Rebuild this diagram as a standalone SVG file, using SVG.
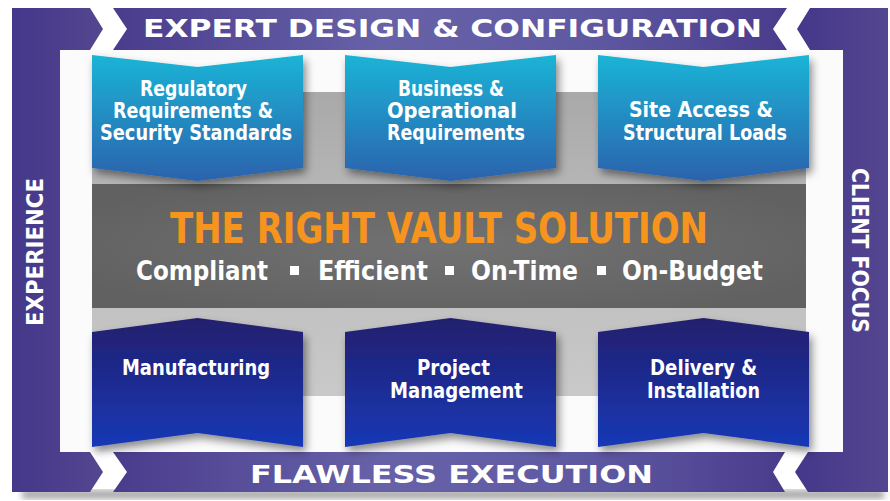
<svg xmlns="http://www.w3.org/2000/svg" width="890" height="501" viewBox="0 0 890 501">
<defs>
<style>
.frame{fill:url(#purpleV)}
.band{fill:url(#bandG)}
.bandtxt{font-family:"DejaVu Sans","Liberation Sans",sans-serif;font-weight:bold;fill:#fff;font-size:24px}
.side{font-family:"Liberation Sans Narrow","DejaVu Sans Condensed","Liberation Sans",sans-serif;font-weight:bold;fill:#fff;font-size:23px}
.nt{font-family:"Liberation Sans Narrow","DejaVu Sans Condensed","Liberation Sans",sans-serif;font-weight:bold;fill:#fff;font-size:21px;text-anchor:start}
.top{fill:url(#cyanG);filter:url(#sh)}
.bot{fill:url(#navyG);filter:url(#sh)}
.sub{font-family:"Liberation Sans Narrow","DejaVu Sans Condensed","Liberation Sans",sans-serif;font-weight:bold;fill:#fff;font-size:27px}
</style>
<linearGradient id="purpleV" x1="0" y1="0" x2="1" y2="0">
<stop offset="0" stop-color="#45378a"/><stop offset="1" stop-color="#54468f"/>
</linearGradient>
<linearGradient id="bandG" x1="0" y1="0" x2="1" y2="0">
<stop offset="0" stop-color="#4a3c8c"/><stop offset="0.4" stop-color="#6762a8"/><stop offset="0.7" stop-color="#5f59a2"/><stop offset="1" stop-color="#4a3c8c"/>
</linearGradient>
<linearGradient id="cyanG" x1="0" y1="0" x2="0" y2="1">
<stop offset="0" stop-color="#1bb4d6"/><stop offset="1" stop-color="#2b62ad"/>
</linearGradient>
<linearGradient id="navyG" x1="0" y1="0" x2="0" y2="1">
<stop offset="0" stop-color="#231f6e"/><stop offset="0.45" stop-color="#1d2a8e"/><stop offset="1" stop-color="#1838b6"/>
</linearGradient>
<linearGradient id="grayL" x1="0" y1="0" x2="0" y2="1">
<stop offset="0" stop-color="#a9a9a9"/><stop offset="0.5" stop-color="#bdbdbd"/><stop offset="1" stop-color="#c9c9c9"/>
</linearGradient>
<radialGradient id="grayD" cx="0.5" cy="0.5" r="0.6">
<stop offset="0" stop-color="#727272"/><stop offset="1" stop-color="#616161"/>
</radialGradient>
<filter id="sh" x="-10%" y="-10%" width="125%" height="130%">
<feDropShadow dx="3" dy="5" stdDeviation="4" flood-color="#000" flood-opacity="0.45"/>
</filter>
<filter id="blur"><feGaussianBlur stdDeviation="3"/></filter>
</defs>
<rect width="890" height="501" fill="#fff"/>
<rect x="22" y="490" width="862" height="9" fill="#a8a8a8" filter="url(#blur)"/>
<rect x="60" y="50" width="783" height="402" fill="#fbfbfb"/>
<g id="frame">
<polygon class="frame" points="12,8 90,8 103,29 90,50 60,50 60,452 90,452 103,472 90,492 12,492"/>
<polygon class="frame" points="810,8 888,8 888,492 808,492 795,472 808,452 843,452 843,50 810,50 797,29"/>
</g>
<g id="top-band">
<polygon class="band" points="113,8 787,8 773,29 787,50 113,50 127,29"/>
<text class="bandtxt" x="143" y="37" textLength="619" lengthAdjust="spacingAndGlyphs">EXPERT DESIGN &amp; CONFIGURATION</text>
</g>
<g id="bottom-band">
<polygon class="band" points="113,452 785,452 773,472 785,492 113,492 127,472"/>
<text class="bandtxt" x="250" y="483" textLength="403" lengthAdjust="spacingAndGlyphs">FLAWLESS EXECUTION</text>
</g>
<g id="experience">
<text class="side" transform="translate(43,326) rotate(-90)" x="0" y="0" textLength="148" lengthAdjust="spacingAndGlyphs">EXPERIENCE</text>
</g>
<g id="client-focus">
<text class="side" transform="translate(852,168) rotate(90)" x="0" y="0" textLength="165" lengthAdjust="spacingAndGlyphs">CLIENT FOCUS</text>
</g>
<g id="center">
<rect x="92" y="92" width="714" height="304" fill="url(#grayL)"/>
<rect x="92" y="184" width="714" height="124" fill="url(#grayD)"/>
<text x="170" y="243" font-family="'Liberation Sans Narrow','DejaVu Sans Condensed','Liberation Sans',sans-serif" font-weight="bold" font-size="43" fill="#f7941d" textLength="538" lengthAdjust="spacingAndGlyphs">THE RIGHT VAULT SOLUTION</text>
<text class="sub" x="136" y="280" textLength="132" lengthAdjust="spacingAndGlyphs">Compliant</text>
<rect x="290" y="266" width="9" height="9" fill="#fff"/>
<text class="sub" x="318" y="280" textLength="110" lengthAdjust="spacingAndGlyphs">Efficient</text>
<rect x="445" y="266" width="9" height="9" fill="#fff"/>
<text class="sub" x="471" y="280" textLength="107" lengthAdjust="spacingAndGlyphs">On-Time</text>
<rect x="597" y="266" width="9" height="9" fill="#fff"/>
<text class="sub" x="622" y="280" textLength="141" lengthAdjust="spacingAndGlyphs">On-Budget</text>
</g>
<g id="node-regulatory">
<polygon class="top" points="92,55 197.5,67 303,55 303,168 197.5,181 92,168"/>
<text class="nt" x="140" y="96" textLength="107" lengthAdjust="spacingAndGlyphs">Regulatory</text>
<text class="nt" x="113" y="118" textLength="160" lengthAdjust="spacingAndGlyphs">Requirements &amp;</text>
<text class="nt" x="100" y="140" textLength="192" lengthAdjust="spacingAndGlyphs">Security Standards</text>
</g>
<g id="node-business">
<polygon class="top" points="345,55 450.5,67 556,55 556,168 450.5,181 345,168"/>
<text class="nt" x="398" y="96" textLength="106" lengthAdjust="spacingAndGlyphs">Business &amp;</text>
<text class="nt" x="387" y="118" textLength="130" lengthAdjust="spacingAndGlyphs">Operational</text>
<text class="nt" x="387" y="140" textLength="138" lengthAdjust="spacingAndGlyphs">Requirements</text>
</g>
<g id="node-site">
<polygon class="top" points="598,55 703.5,67 809,55 809,168 703.5,181 598,168"/>
<text class="nt" x="629" y="117" textLength="144" lengthAdjust="spacingAndGlyphs">Site Access &amp;</text>
<text class="nt" x="623" y="140" textLength="164" lengthAdjust="spacingAndGlyphs">Structural Loads</text>
</g>
<g id="node-manufacturing">
<polygon class="bot" points="92,332 197.5,318 303,332 303,447 197.5,433 92,447"/>
<text class="nt" x="122" y="375" textLength="148" lengthAdjust="spacingAndGlyphs">Manufacturing</text>
</g>
<g id="node-project">
<polygon class="bot" points="345,332 450.5,318 556,332 556,447 450.5,433 345,447"/>
<text class="nt" x="417" y="375" textLength="73" lengthAdjust="spacingAndGlyphs">Project</text>
<text class="nt" x="390" y="398" textLength="133" lengthAdjust="spacingAndGlyphs">Management</text>
</g>
<g id="node-delivery">
<polygon class="bot" points="598,332 703.5,318 809,332 809,447 703.5,433 598,447"/>
<text class="nt" x="650" y="375" textLength="107" lengthAdjust="spacingAndGlyphs">Delivery &amp;</text>
<text class="nt" x="647" y="398" textLength="113" lengthAdjust="spacingAndGlyphs">Installation</text>
</g>
<g id="connectors"/>
</svg>
